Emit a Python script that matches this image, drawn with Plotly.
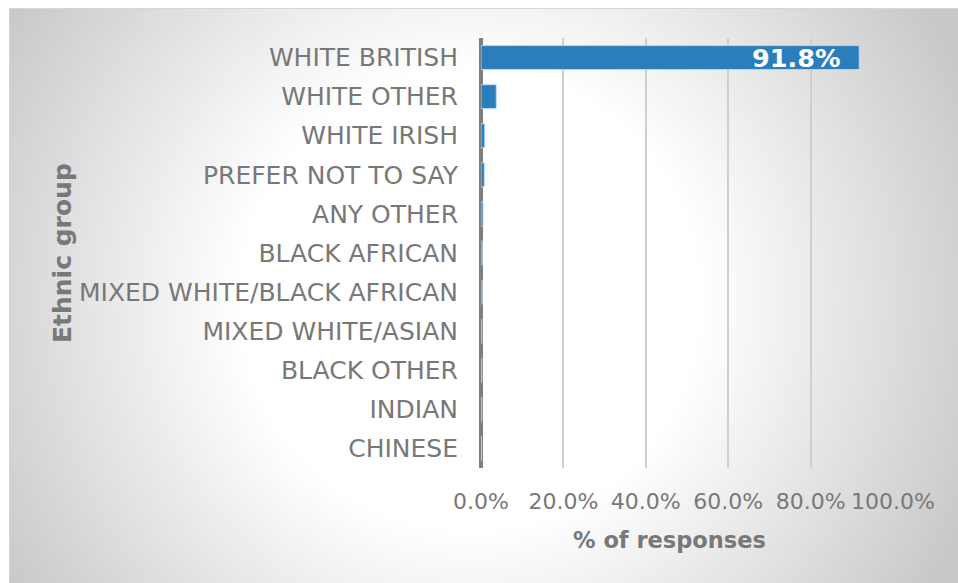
import base64
import plotly.graph_objects as go

# Survey results: share of responses per ethnic group (%)
groups = [
    "WHITE BRITISH", "WHITE OTHER", "WHITE IRISH", "PREFER NOT TO SAY",
    "ANY OTHER", "BLACK AFRICAN", "MIXED WHITE/BLACK AFRICAN",
    "MIXED WHITE/ASIAN", "BLACK OTHER", "INDIAN", "CHINESE",
]
shares = [91.8, 3.7, 0.9, 0.8, 0.5, 0.3, 0.3, 0.2, 0.2, 0.2, 0.1]
x_ticks = [0, 20, 40, 60, 80, 100]
x_tick_text = ["0.0%", "20.0%", "40.0%", "60.0%", "80.0%", "100.0%"]

W, H = 958, 583
M_L, M_R, M_T, M_B = 481, 65, 38, 115
PW, PH = W - M_L - M_R, H - M_T - M_B

GREY_TXT = "#787878"
FONT = "DejaVu Sans"

# Chart-area background: radial white-to-grey fill with a thin frame
svg = f"""<svg xmlns="http://www.w3.org/2000/svg" width="{W}" height="{H}" viewBox="0 0 {W} {H}" preserveAspectRatio="none">
<defs><radialGradient id="g" gradientUnits="userSpaceOnUse" cx="470" cy="300" r="560">
<stop offset="0.41" stop-color="#ffffff"/><stop offset="0.97" stop-color="#c8c8c8"/>
</radialGradient></defs>
<rect width="{W}" height="{H}" fill="#ffffff"/>
<rect x="9.5" y="8.5" width="{W + 10}" height="{H + 10}" fill="url(#g)" stroke="#d6d6d6" stroke-width="1"/>
</svg>"""
bg_uri = "data:image/svg+xml;base64," + base64.b64encode(svg.encode()).decode()

fig = go.Figure(
    go.Bar(
        x=shares,
        y=groups,
        orientation="h",
        marker=dict(color="#2a7ebc", line=dict(color="rgba(190,220,245,0.85)", width=1)),
        hovertemplate="%{y}: %{x:.1f}%<extra></extra>",
    )
)

fig.add_layout_image(
    source=bg_uri,
    xref="paper", yref="paper",
    x=-M_L / PW, y=1 + M_T / PH,
    sizex=W / PW, sizey=H / PH,
    sizing="stretch", xanchor="left", yanchor="top",
    layer="below",
)

# Value label inside the end of the largest bar
fig.add_annotation(
    x=shares[0], y=groups[0], xref="x", yref="y",
    text=f"{shares[0]:.1f}%", showarrow=False,
    xanchor="right", xshift=-17,
    font=dict(family=FONT, size=25.5, color="white", weight="bold"),
)

# Axis titles
fig.add_annotation(
    x=(669 - M_L) / PW, y=-(540 - M_T - PH) / PH,
    xref="paper", yref="paper", text="% of responses", showarrow=False,
    xanchor="center", yanchor="middle",
    font=dict(family=FONT, size=22.5, color=GREY_TXT, weight="bold"),
)
fig.add_annotation(
    x=(62 - M_L) / PW, y=(M_T + PH - 253) / PH,
    xref="paper", yref="paper", text="Ethnic group", showarrow=False,
    textangle=-90, xanchor="center", yanchor="middle",
    font=dict(family=FONT, size=25, color=GREY_TXT, weight="bold"),
)

fig.update_layout(
    width=W, height=H,
    margin=dict(l=M_L, r=M_R, t=M_T, b=M_B, pad=0),
    paper_bgcolor="white",
    plot_bgcolor="rgba(0,0,0,0)",
    bargap=0.39,
    showlegend=False,
    font=dict(family=FONT, color=GREY_TXT),
    xaxis=dict(
        range=[0, 100],
        tickvals=x_ticks, ticktext=x_tick_text,
        tickfont=dict(family=FONT, size=22, color=GREY_TXT),
        showgrid=True, gridcolor="#cfcfcf", gridwidth=1.5,
        zeroline=True, zerolinecolor="#7f7f7f", zerolinewidth=3.5,
        showline=False, ticks="", ticklabelstandoff=18,
        fixedrange=True,
    ),
    yaxis=dict(
        categoryorder="array", categoryarray=groups,
        autorange="reversed",
        tickfont=dict(family=FONT, size=25, color=GREY_TXT),
        showgrid=False, zeroline=False, showline=False,
        ticks="", ticklabelstandoff=22,
        fixedrange=True,
    ),
)

fig.write_html("out.html")
